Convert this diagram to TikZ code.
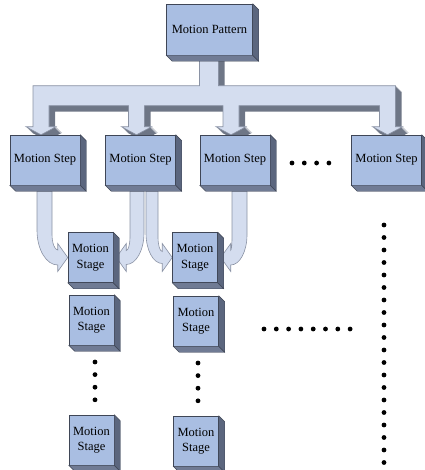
\documentclass[tikz,border=0pt]{standalone}
\usepackage{fontspec}
\setmainfont{Liberation Serif}
\usetikzlibrary{calc,backgrounds}

\definecolor{facecol}{HTML}{A9BEE2}
\definecolor{sidecol}{HTML}{5B667E}
\definecolor{bottomcol}{HTML}{707B94}
\definecolor{linecol}{HTML}{3F4656}
\definecolor{arrowcol}{HTML}{D4DDEF}
\definecolor{arrowline}{HTML}{8A92A4}
\definecolor{shadecol}{HTML}{6E7686}

\tikzset{
  block/.style={draw=linecol, line width=0.5pt, fill=facecol, inner sep=0pt,
    align=center, font=\fontsize{12.5}{15.5}\selectfont},
  stepbox/.style={block, minimum width=70pt, minimum height=50pt},
  stagebox/.style={block, minimum width=45pt, minimum height=50pt},
  sideface/.style={fill=sidecol, draw=linecol, line width=0.4pt},
  bottomface/.style={fill=bottomcol, draw=linecol, line width=0.4pt},
  flatarrow/.style={fill=arrowcol, draw=arrowline, line width=0.6pt},
  treeshade/.style={fill=shadecol},
}

% sides of a box, 6pt deep to the lower right
\newcommand{\extrude}[1]{%
  \path[bottomface] (#1.south west) -- ++(6,6) -- ($(#1.south east)+(6,6)$) -- (#1.south east) -- cycle;
  \path[sideface] (#1.north east) -- ++(6,6) -- ($(#1.south east)+(6,6)$) -- (#1.south east) -- cycle;}

% the branching arrow from the pattern down to the steps
\newcommand{\treepath}[1]{%
  \path[#1] let \p1=(tipone), \p2=(tiptwo), \p3=(tipthree), \p4=(tipfour), \p5=(pattern.south) in
    (\x5-10pt,\y5+10pt) -- (\x5-10pt,\y1+49pt)
    -- (\x1-8pt,\y1+49pt) -- (\x1-8pt,\y1+8pt) -- (\x1-15pt,\y1+8pt) -- (\x1,\y1)
    -- (\x1+15pt,\y1+8pt) -- (\x1+8pt,\y1+8pt) -- (\x1+8pt,\y1+29pt)
    -- (\x2-8pt,\y1+29pt) -- (\x2-8pt,\y2+8pt) -- (\x2-15pt,\y2+8pt) -- (\x2,\y2)
    -- (\x2+15pt,\y2+8pt) -- (\x2+8pt,\y2+8pt) -- (\x2+8pt,\y1+29pt)
    -- (\x3-8pt,\y1+29pt) -- (\x3-8pt,\y3+8pt) -- (\x3-15pt,\y3+8pt) -- (\x3,\y3)
    -- (\x3+15pt,\y3+8pt) -- (\x3+8pt,\y3+8pt) -- (\x3+8pt,\y1+29pt)
    -- (\x4-8pt,\y1+29pt) -- (\x4-8pt,\y4+8pt) -- (\x4-15pt,\y4+8pt) -- (\x4,\y4)
    -- (\x4+15pt,\y4+8pt) -- (\x4+8pt,\y4+8pt) -- (\x4+8pt,\y1+49pt)
    -- (\x5+9pt,\y1+49pt) -- (\x5+9pt,\y5+10pt) -- cycle;}

% bent arrows: #1 top left of the shaft, #2 tip, #3 shaft width
\newcommand{\arrowtoright}[3]{%
  \path[flatarrow] let \p1=(#1), \p2=(#2), \n1={\x2-10pt-\x1}, \n2={\x2-10pt-\x1-#3pt} in
    (\x1,\y1) -- (\x1+#3pt,\y1)
    -- (\x1+#3pt,\y2+#3pt/2+\n2+10pt)
    .. controls (\x1+#3pt,\y2+#3pt/2+0.45*\n2+4.5pt) and (\x2-10pt-0.55*\n2,\y2+#3pt/2)
    .. (\x2-10pt,\y2+#3pt/2)
    -- (\x2-10pt,\y2+14pt) -- (\x2,\y2) -- (\x2-10pt,\y2-14pt) -- (\x2-10pt,\y2-#3pt/2)
    .. controls (\x2-10pt-0.55*\n1,\y2-#3pt/2) and (\x1,\y2-#3pt/2+0.45*\n1+6pt)
    .. (\x1,\y2-#3pt/2+\n1+14pt)
    -- cycle;}
\newcommand{\arrowtoleft}[3]{%
  \path[flatarrow] let \p1=(#1), \p2=(#2), \n1={\x1+#3pt-\x2-10pt}, \n2={\x1-\x2-10pt} in
    (\x1,\y1) -- (\x1+#3pt,\y1)
    -- (\x1+#3pt,\y2-#3pt/2+\n1+14pt)
    .. controls (\x1+#3pt,\y2-#3pt/2+0.45*\n1+6pt) and (\x2+10pt+0.55*\n1,\y2-#3pt/2)
    .. (\x2+10pt,\y2-#3pt/2)
    -- (\x2+10pt,\y2-14pt) -- (\x2,\y2) -- (\x2+10pt,\y2+14pt) -- (\x2+10pt,\y2+#3pt/2)
    .. controls (\x2+10pt+0.55*\n2,\y2+#3pt/2) and (\x1,\y2+#3pt/2+0.45*\n2+4.5pt)
    .. (\x1,\y2+#3pt/2+\n2+10pt)
    -- cycle;}

\begin{document}
\begin{tikzpicture}[x=1pt,y=-1pt]
  \useasboundingbox (0,0) rectangle (424,470);
  % pattern and steps
  \node[block, minimum width=86pt, minimum height=51pt] (pattern) at (209.5,29.5) {Motion Pattern};
  \node[stepbox] (stepone)   at (45,160)    {Motion Step};
  \node[stepbox] (steptwo)   at (140.5,160) {Motion Step};
  \node[stepbox] (stepthree) at (235,160)   {Motion Step};
  \node[stepbox] (stepfour)  at (386.5,160) {Motion Step};
  % stages
  \node[stagebox] (stageonetop)    at (90.5,257.5) {Motion\\Stage};
  \node[stagebox] (stageonemid)    at (91.5,320)   {Motion\\Stage};
  \node[stagebox] (stageonebottom) at (91.5,440)   {Motion\\Stage};
  \node[stagebox] (stagetwotop)    at (195,257.5)  {Motion\\Stage};
  \node[stagebox] (stagetwomid)    at (196,321)    {Motion\\Stage};
  \node[stagebox] (stagetwobottom) at (196,441)    {Motion\\Stage};
  % sides of the boxes
  \foreach \b in {pattern,stepone,steptwo,stepthree,stepfour,stageonetop,stageonemid,
    stageonebottom,stagetwotop,stagetwomid,stagetwobottom}
    \extrude{\b};
  % ends of the arrows
  \coordinate (tipone)   at ($(stepone.north)+(-4,0)$);
  \coordinate (tiptwo)   at ($(steptwo.north)+(-4,0)$);
  \coordinate (tipthree) at ($(stepthree.north)+(-4,0)$);
  \coordinate (tipfour)  at ($(stepfour.north)+(1,0)$);
  \coordinate (fromone)   at ($(stepone.south)+(-8,6)$);
  \coordinate (fromtwo)   at ($(steptwo.south)+(-10.5,6)$);
  \coordinate (fromtwob)  at ($(steptwo.south)+(5.5,6)$);
  \coordinate (fromthree) at ($(stepthree.south)+(-3,6)$);
  % arrows behind the boxes
  \begin{pgfonlayer}{background}
    \foreach \k in {1,...,6}
      {\treepath{treeshade, transform canvas={xshift={\k*1pt}, yshift={-\k*1pt}}}}
    \treepath{flatarrow}
    \arrowtoright{fromone}{stageonetop.west}{15}
    \arrowtoleft{fromtwo}{$(stageonetop.east)+(3,0)$}{14}
    \arrowtoright{fromtwob}{stagetwotop.west}{12}
    \arrowtoleft{fromthree}{$(stagetwotop.east)+(3,0)$}{15}
  \end{pgfonlayer}
  % dots
  \foreach \i in {0,...,3} \fill[black] (292+12.3*\i,163) circle (2.4pt);
  \foreach \i in {0,...,7} \fill[black] (264+12.3*\i,329) circle (2.4pt);
  \foreach \i in {0,...,3} {
    \fill[black] (95,362+12.6*\i) circle (2.4pt);
    \fill[black] (198,363+12.6*\i) circle (2.4pt);}
  \foreach \i in {0,...,19} \fill[black] (384,225+12.5*\i) circle (2.4pt);
\end{tikzpicture}
\end{document}
